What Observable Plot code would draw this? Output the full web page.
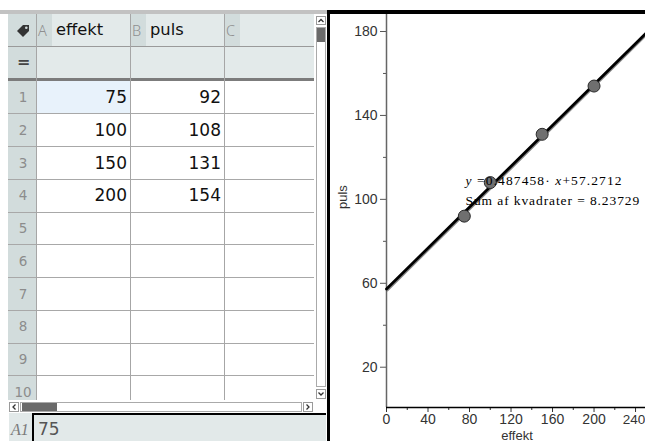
<!DOCTYPE html>
<html>
<head>
<meta charset="utf-8">
<script src="https://cdn.jsdelivr.net/npm/d3@7"></script>
<script src="https://cdn.jsdelivr.net/npm/@observablehq/plot@0.6"></script>
<style>
  html, body { margin: 0; padding: 0; background: #fff; }
  #page { position: relative; width: 645px; height: 441px; overflow: hidden; background: #fff; font-family: "DejaVu Sans", "Noto Sans", sans-serif; }
  .b { position: absolute; box-sizing: border-box; }
  .t { position: absolute; white-space: nowrap; line-height: 1; }
</style>
</head>
<body>
<div id="page"></div>
<script>
// ---- data ----
const effekt = [75, 100, 150, 200];
const puls = [92, 108, 131, 154];
const columnLetters = ["A", "B", "C"];
const columnNames = ["effekt", "puls", ""];
const rowLabels = [1, 2, 3, 4, 5, 6, 7, 8, 9, 10];
const xTicks = [0, 40, 80, 120, 160, 200, 240];
const xMinorTicks = [20, 60, 100, 140, 180, 220];
const yTicks = [20, 60, 100, 140, 180];
const yMinorTicks = [40, 80, 120, 160];
const fitSlope = 0.487458;
const fitIntercept = 57.2712;
const sumSquares = 8.23729;
const xDomain = [0, 249.6];
const yDomain = [0.8, 188.1];

const page = document.getElementById("page");
function box(l, t, w, h, css) {
  const d = document.createElement("div");
  d.className = "b";
  Object.assign(d.style, {left: l + "px", top: t + "px", width: w + "px", height: h + "px"}, css || {});
  page.appendChild(d);
  return d;
}
function txt(s, l, t, css) {
  const d = document.createElement("div");
  d.className = "t";
  d.textContent = s;
  Object.assign(d.style, {left: l + "px", top: t + "px"}, css || {});
  page.appendChild(d);
  return d;
}

// ---- frame ----
box(0, 10, 327, 4, {background: "#c2c2c2"});
box(330, 10, 315, 4, {background: "#000"});
box(327, 10, 3, 431, {background: "#000"});

// ---- spreadsheet ----
const colX = [36, 130, 224];
const colW = 94;
const gridRight = 314;
const rowTop0 = 81, rowH = 32.75;
box(8, 14, 28, 386, {background: "#d2dcdc"});
box(36, 14, gridRight - 36, 64, {background: "#e3eaea"});
// highlighted A1
box(37, rowTop0, 93, rowH, {background: "#e8f2fb"});
// letter boxes + names
columnLetters.forEach((c, i) => {
  box(colX[i], 14, 16, 32, {background: "#d2dcdc"});
  txt(c, colX[i] + 2, 23, {fontSize: "14.5px", color: "#8f8f8f", fontWeight: "300", fontFamily: "'Noto Sans', sans-serif"});
  if (columnNames[i]) txt(columnNames[i], colX[i] + 20, 22, {fontSize: "16.3px", color: "#111"});
});
// icon
const ic = document.createElementNS("http://www.w3.org/2000/svg", "svg");
ic.setAttribute("width", 14); ic.setAttribute("height", 14);
ic.style.position = "absolute"; ic.style.left = "16px"; ic.style.top = "24px";
ic.innerHTML = '<path d="M1 7 L7 1 L13 1 L13 7 L7 13 Z" fill="#333"/><circle cx="10.3" cy="3.7" r="1.3" fill="#d2dcdc"/>';
page.appendChild(ic);
txt("=", 17, 54, {fontSize: "16px", color: "#444", fontWeight: "bold"});
// grid lines
box(8, 46, gridRight - 8, 1, {background: "#9a9a9a"});
box(8, 78, gridRight - 8, 3, {background: "#7c7c7c"});
rowLabels.forEach((r, i) => {
  const top = rowTop0 + i * rowH;
  if (top + rowH < 400) box(8, top + rowH - 0.5, gridRight - 8, 1, {background: "#a8a8a8"});
  txt(String(r), 9, top + 10, {fontSize: "13.5px", color: "#8c8c8c", width: "28px", textAlign: "center"});
});
[36, 130, 224].forEach(x => box(x, 14, 1, 386, {background: "#a6a6a6"}));
// values
effekt.forEach((v, i) => {
  txt(String(v), colX[0], rowTop0 + i * rowH + 8, {fontSize: "17px", color: "#111", width: (colW - 3) + "px", textAlign: "right"});
});
puls.forEach((v, i) => {
  txt(String(v), colX[1], rowTop0 + i * rowH + 8, {fontSize: "17px", color: "#111", width: (colW - 3) + "px", textAlign: "right"});
});
// vertical scrollbar
box(314, 14, 13, 386, {background: "#fff"});
box(316, 16, 10, 9, {border: "1px solid #9a9a9a", background: "#fff"});
box(316, 27, 10, 360, {border: "1px solid #aaa", background: "#fff"});
box(317, 28, 8, 14, {background: "#6a6a6a"});
box(316, 389, 10, 10, {border: "1px solid #9a9a9a", background: "#fff"});
// horizontal scrollbar
box(8, 400, 306, 13, {background: "#fff"});
box(9, 402, 10, 10, {border: "1px solid #9a9a9a", background: "#fff"});
box(20, 402, 282, 10, {border: "1px solid #aaa", background: "#fff"});
box(22, 403, 35, 8, {background: "#6a6a6a"});
box(303, 402, 10, 10, {border: "1px solid #9a9a9a", background: "#fff"});
// arrow glyphs
const arrows = document.createElementNS("http://www.w3.org/2000/svg", "svg");
arrows.setAttribute("width", 327); arrows.setAttribute("height", 441);
arrows.style.position = "absolute"; arrows.style.left = "0"; arrows.style.top = "0";
arrows.innerHTML =
  '<g fill="none" stroke="#333" stroke-width="1.3">' +
  '<path d="M318.5 22 L321 19.5 L323.5 22"/>' +
  '<path d="M318.5 392.5 L321 395 L323.5 392.5"/>' +
  '<path d="M15.5 404.5 L13 407 L15.5 409.5"/>' +
  '<path d="M306.5 404.5 L309 407 L306.5 409.5"/>' +
  '</g>';
page.appendChild(arrows);
// formula bar
box(9, 413, 317, 28, {background: "#e2e9e9"});
box(32, 413, 294, 2, {background: "#000"});
box(32, 413, 2, 28, {background: "#000"});
txt("A1", 11, 422, {fontSize: "16px", color: "#7a7a7a", fontStyle: "italic", fontFamily: "'Liberation Serif', serif"});
txt(String(effekt[0]), 38, 421, {fontSize: "17px", color: "#555"});

// ---- graph ----
const points = effekt.map((e, i) => ({effekt: e, puls: puls[i]}));
const fitLine = xDomain.map(x => ({effekt: x, puls: fitSlope * x + fitIntercept}));
const eqText = `y =${fitSlope}· x+${fitIntercept}`;
const ssText = `Sum af kvadrater = ${sumSquares}`;

const axisFont = "'Liberation Sans', Arial, sans-serif";
const chart = Plot.plot({
  width: 315,
  height: 427,
  marginLeft: 56,
  marginRight: 0,
  marginTop: 0,
  marginBottom: 34,
  style: {fontFamily: axisFont, fontSize: "14px", background: "transparent", overflow: "visible", color: "#333"},
  x: {domain: xDomain},
  y: {domain: yDomain},
  marks: [
    Plot.axisY({ticks: yTicks, tickSize: 6, tickPadding: 3, label: null, stroke: "#555", fill: "#333", fontSize: 14}),
    Plot.axisY({ticks: yMinorTicks, tickSize: 3, tickFormat: () => "", label: null, stroke: "#555"}),
    Plot.axisX({ticks: xTicks, tickSize: 5, tickPadding: 2, label: null, stroke: "#333", fill: "#333", fontSize: 14}),
    Plot.axisX({ticks: xMinorTicks, tickSize: 3, tickFormat: () => "", label: null, stroke: "#333"}),
    Plot.ruleX([xDomain[0]], {stroke: "#666", strokeWidth: 1.5}),
    Plot.ruleY([yDomain[0]], {stroke: "#000", strokeWidth: 1.6}),
    Plot.line(fitLine, {x: "effekt", y: "puls", stroke: "#8a8a8a", strokeWidth: 1.5, dx: 1, dy: 1.6}),
    Plot.line(fitLine, {x: "effekt", y: "puls", stroke: "#000", strokeWidth: 2.8}),
    Plot.dot(points, {x: "effekt", y: "puls", r: 6, fill: "#6f6f6f", stroke: "#2a2a2a", strokeWidth: 1}),
    Plot.text([eqText], {frameAnchor: "top-left", dx: 79, dy: 170, lineAnchor: "bottom", textAnchor: "start", fontFamily: "'Liberation Serif', serif", fontSize: 13.5, fill: "#000"}),
    Plot.text([ssText], {frameAnchor: "top-left", dx: 79, dy: 190, lineAnchor: "bottom", textAnchor: "start", fontFamily: "'Liberation Serif', serif", fontSize: 13.5, fill: "#000"}),
    Plot.text(["puls"], {frameAnchor: "left", dx: -44, dy: -2, rotate: -90, fontSize: 13, fill: "#333"}),
    Plot.text(["effekt"], {frameAnchor: "bottom", dx: 1, dy: 32, lineAnchor: "bottom", fontSize: 13, fill: "#333"})
  ]
});
chart.style.position = "absolute";
chart.style.left = "330px";
chart.style.top = "14px";
page.appendChild(chart);

// italic variables + spacing in the regression text; keep last tick label inside the edge
chart.querySelectorAll("text").forEach(t => {
  const s = t.textContent;
  if (s === eqText) {
    t.setAttribute("letter-spacing", "1.1");
    t.innerHTML = `<tspan font-style="italic">y</tspan> =${fitSlope}· <tspan font-style="italic">x</tspan>+${fitIntercept}`;
  } else if (s === ssText) {
    t.setAttribute("letter-spacing", "0.9");
  } else if (s === String(xTicks[xTicks.length - 1])) {
    t.setAttribute("font-size", "13.5");
    t.setAttribute("dx", "-1.5");
  }
});
</script>
</body>
</html>
